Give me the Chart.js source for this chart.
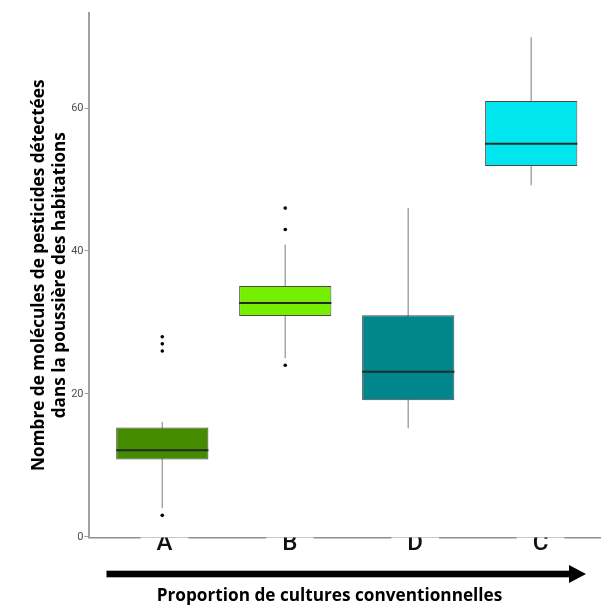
<!DOCTYPE html>
<html>
<head>
<meta charset="utf-8">
<script src="https://cdn.jsdelivr.net/npm/chart.js@4"></script>
<style>
  html, body { margin: 0; padding: 0; background: #fff; overflow: hidden; }
  canvas { display: block; }
</style>
</head>
<body>
<canvas id="box" width="612" height="608"></canvas>
<script>
  // Box plot data
  const groups = ['A', 'B', 'D', 'C'];
  const groupPos = [1, 2, 3, 4];
  const colors = ['#458B00', '#76EE00', '#00868B', '#00E5EE'];
  const q1 = [10.8, 30.9, 19.1, 51.9];
  const median = [12.1, 32.7, 23.1, 55.0];
  const q3 = [15.3, 35.1, 31.0, 61.0];
  const whiskerLow = [4, 25, 15.2, 49.2];
  const whiskerHigh = [16.1, 40.9, 46, 69.9];
  const outliers = [[3, 26, 27, 28], [24, 43, 46], [], []];
  const yTicks = [0, 20, 40, 60];
  const xTitle = 'Proportion de cultures conventionnelles';

  const tickFamily = "Roboto, sans-serif";
  const titleFont = "bold 17.2px 'Open Sans'";

  // whiskers under the boxes, medians on top, arrow + x title below
  const boxExtras = {
    id: 'boxExtras',
    beforeDatasetsDraw(chart) {
      const { ctx, scales: { x, y } } = chart;
      ctx.save();
      ctx.strokeStyle = '#a6a6a6';
      ctx.lineWidth = 1.5;
      groupPos.forEach((p, i) => {
        const px = x.getPixelForValue(p);
        ctx.beginPath();
        ctx.moveTo(px, y.getPixelForValue(whiskerLow[i]));
        ctx.lineTo(px, y.getPixelForValue(whiskerHigh[i]));
        ctx.stroke();
      });
      ctx.restore();
    },
    afterDatasetsDraw(chart) {
      const { ctx, scales: { y } } = chart;
      const bars = chart.getDatasetMeta(0).data;
      ctx.save();
      ctx.strokeStyle = '#1f2a2a';
      ctx.lineWidth = 2;
      bars.forEach((bar, i) => {
        const py = y.getPixelForValue(median[i]);
        ctx.beginPath();
        ctx.moveTo(bar.x - bar.width / 2, py);
        ctx.lineTo(bar.x + bar.width / 2, py);
        ctx.stroke();
      });
      ctx.restore();
    },
    afterDraw(chart) {
      const { ctx, chartArea } = chart;
      const yA = chartArea.bottom + 36.5;
      const x0 = chartArea.left + 18;
      const x1 = chart.width - 26;
      ctx.save();
      ctx.fillStyle = '#000';
      ctx.fillRect(x0, yA - 3.3, x1 - 17 - x0, 6.6);
      ctx.beginPath();
      ctx.moveTo(x1 - 17, yA - 9);
      ctx.lineTo(x1, yA);
      ctx.lineTo(x1 - 17, yA + 9);
      ctx.closePath();
      ctx.fill();
      ctx.font = titleFont;
      ctx.textAlign = 'center';
      ctx.textBaseline = 'alphabetic';
      ctx.fillText(xTitle, chartArea.left + 241, chart.height - 7);
      ctx.restore();
    }
  };

  const boxData = groupPos.map((p, i) => ({ x: p, y: [q1[i], q3[i]] }));
  const outlierData = [];
  outliers.forEach((list, i) => list.forEach(v => outlierData.push({ x: groupPos[i], y: v })));

  new Chart(document.getElementById('box'), {
    type: 'bar',
    data: {
      datasets: [{
        type: 'bar',
        data: boxData,
        backgroundColor: colors,
        borderColor: '#4a4a4a',
        borderWidth: 1,
        borderSkipped: false,
        categoryPercentage: 1,
        barPercentage: 0.75,
        order: 2
      }, {
        type: 'scatter',
        data: outlierData,
        pointRadius: 1.8,
        pointBackgroundColor: '#000',
        pointBorderWidth: 0,
        order: 1
      }]
    },
    options: {
      responsive: false,
      animation: false,
      layout: { padding: { top: 13, right: 7, left: 0, bottom: 0 } },
      plugins: { legend: { display: false }, tooltip: { enabled: false } },
      scales: {
        x: {
          type: 'linear',
          display: false,
          offset: false,
          min: 0.4,
          max: 4.6,
          afterBuildTicks: s => { s.ticks = groupPos.map(v => ({ value: v })); }
        },
        xl: {
          type: 'linear',
          position: 'bottom',
          offset: false,
          min: 0.393,
          max: 4.515,
          afterBuildTicks: s => { s.ticks = groupPos.map(v => ({ value: v })); },
          afterFit: s => { s.height = 70.5; },
          border: { color: '#8f8f8f', width: 1.5 },
          grid: { display: false, drawTicks: false, tickLength: 0, offset: false },
          ticks: {
            padding: -7.5,
            color: '#111',
            font: { family: tickFamily, size: 24, weight: '500' },
            callback: v => groups[groupPos.indexOf(v)],
            showLabelBackdrop: true,
            backdropColor: '#fff',
            backdropPadding: { top: 0, bottom: 0, left: 16, right: 16 }
          }
        },
        y: {
          min: -0.1,
          max: 73.3,
          afterBuildTicks: s => { s.ticks = yTicks.map(v => ({ value: v })); },
          afterFit: s => { s.width = 88.5; },
          border: { color: '#a0a0a0', width: 2 },
          grid: { drawOnChartArea: false, drawTicks: true, tickLength: 4, color: '#a0a0a0' },
          ticks: {
            padding: 1,
            color: '#4d4d4d',
            font: { family: tickFamily, size: 11 }
          },
          title: {
            display: true,
            text: ['Nombre de molécules de pesticides détectées', 'dans la poussière des habitations'],
            color: '#000',
            font: { family: "'Open Sans'", weight: 'bold', size: 17.2, lineHeight: 1.24 },
            padding: { top: 28.3, bottom: 2 }
          }
        }
      }
    },
    plugins: [boxExtras]
  });
</script>
</body>
</html>
